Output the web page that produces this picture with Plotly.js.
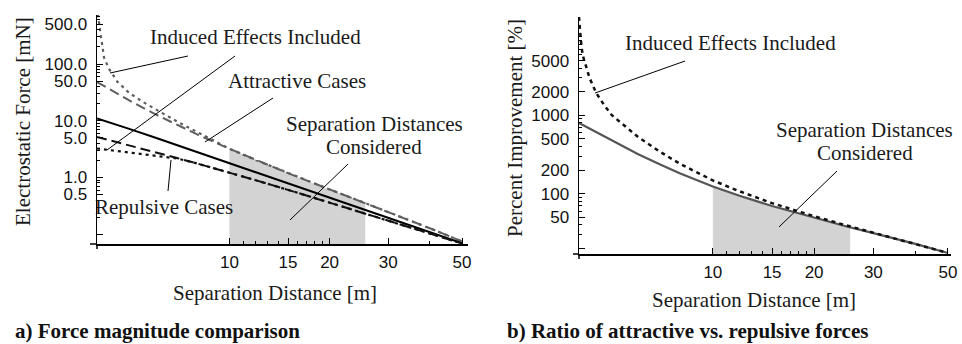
<!DOCTYPE html>
<html><head><meta charset="utf-8">
<script src="https://cdn.plot.ly/plotly-3.0.1.min.js"></script>
<style>html,body{margin:0;padding:0;background:#fff}#chart{width:962px;height:344px}</style>
</head><body><div id="chart"></div><script>
// ---- Left panel: force magnitude [mN] vs separation distance [m]
const distLeft = [4, 4.5, 5, 6, 7, 8, 10, 12, 15, 20, 25, 30, 40, 50];
const neutralForce = [11.0, 8.94, 7.2, 5.0, 3.66, 2.80, 1.78, 1.23, 0.785, 0.44, 0.28, 0.193, 0.108, 0.069];
const repulsiveForce = [5.17, 4.33, 3.70, 2.79, 2.18, 1.76, 1.22, 0.893, 0.604, 0.36, 0.241, 0.174, 0.103, 0.0685];
const attractiveForce = [48.2, 32.3, 22.8, 12.9, 8.28, 5.73, 3.21, 2.03, 1.19, 0.615, 0.372, 0.247, 0.127, 0.0746];
const repulsiveInducedDist = [4, 4.5, 5, 6, 7, 8, 10, 12, 15, 20, 25, 30, 40, 50];
const repulsiveInducedForce = [3.24, 2.99, 2.75, 2.39, 2.15, 1.76, 1.22, 0.893, 0.604, 0.36, 0.241, 0.174, 0.103, 0.0685];
const attractiveInducedDist = [4, 4.05, 4.1, 4.2, 4.35, 4.6, 5, 5.5, 6, 7, 8, 10, 12, 15, 20, 25, 30, 40, 50];
const attractiveInducedForce = [1000, 551, 339, 130, 81.7, 49.2, 30.9, 21.4, 15.8, 9.5, 6.33, 3.21, 2.03, 1.19, 0.615, 0.372, 0.247, 0.127, 0.0746];
const shadeLeftDist = [10, 12, 15, 20, 25, 25.6];
const shadeLeftTop = [3.21, 2.03, 1.19, 0.615, 0.372, 0.36];
const leftYTickVals = [0.1, 0.5, 1, 5, 10, 50, 100, 500];
const leftYTickText = ['', '0.5', '1.0', '5.0', '10.0', '50.0', '100.0', '500.0'];

// ---- Right panel: percent improvement vs separation distance
const distRight = [4, 4.5, 5, 6, 7, 8, 10, 12, 15, 20, 25, 30, 40, 50];
const improvement = [800, 610, 478, 320, 234, 181.5, 124, 94.4, 69.8, 49.2, 38.3, 31.5, 23.0, 17.6];
const improvementInducedDist = [4, 4.02, 4.05, 4.1, 4.2, 4.3, 4.5, 4.75, 5, 5.5, 6, 7, 8, 10, 12, 15, 20, 25, 30, 40, 50];
const improvementInduced = [18000, 13500, 9160, 5890, 4140, 3000, 1930, 1358, 1012, 711, 528, 339, 240, 148, 107.6, 76, 51.7, 39.4, 32, 23.1, 17.6];
const shadeRightDist = [10, 12, 15, 20, 25, 25.6];
const shadeRightTop = [124, 94.4, 69.8, 49.2, 38.3, 37.6];
const rightYTickVals = [20, 50, 100, 200, 500, 1000, 2000, 5000];
const rightYTickText = ['', '50', '100', '200', '500', '1000', '2000', '5000'];

const xTickVals = [10, 15, 20, 30, 50];
const xTickText = ['10', '15', '20', '30', '50'];
const xMinorVals = [11, 12, 13, 14, 16, 17, 18, 19, 40];

const W = 962, H = 344;
const px = v => v / W, py = v => 1 - v / H;
const SERIF = '"Liberation Serif", "Times New Roman", serif';
const SANS = '"Liberation Sans", Arial, sans-serif';
const GRAY = '#5e5e5e';

function shade(d, top, floor, xa, ya) {
  return {x: d.concat([d[d.length - 1], d[0]]), y: top.concat([floor, floor]),
    xaxis: xa, yaxis: ya, type: 'scatter', mode: 'lines', fill: 'toself',
    fillcolor: '#d3d3d3', line: {width: 0}, hoverinfo: 'skip'};
}
function line(x, y, xa, ya, color, width, dash) {
  return {x: x, y: y, xaxis: xa, yaxis: ya, type: 'scatter', mode: 'lines',
    line: {color: color, width: width, dash: dash}, hoverinfo: 'skip'};
}

const traces = [
  shade(shadeLeftDist, shadeLeftTop, 0.01, 'x', 'y'),
  line(distLeft, attractiveForce, 'x', 'y', GRAY, 2, '10px,5px'),
  line(attractiveInducedDist, attractiveInducedForce, 'x', 'y', GRAY, 2.2, '3px,4px'),
  line(distLeft, neutralForce, 'x', 'y', '#000', 2, 'solid'),
  line(distLeft, repulsiveForce, 'x', 'y', '#111', 2, '10px,5px'),
  line(repulsiveInducedDist, repulsiveInducedForce, 'x', 'y', '#111', 2.2, '3px,4px'),
  shade(shadeRightDist, shadeRightTop, 1, 'x2', 'y2'),
  line(distRight, improvement, 'x2', 'y2', '#555', 2.2, 'solid'),
  line(improvementInducedDist, improvementInduced, 'x2', 'y2', '#111', 2.5, '4px,4px')
];

const tickfont = {family: SANS, size: 17, color: '#111'};
function xAxis(domain, range, anchor) {
  return {type: 'log', domain: domain, range: range, anchor: anchor,
    showline: true, linecolor: '#000', linewidth: 1.5, showgrid: false, zeroline: false,
    tickmode: 'array', tickvals: xTickVals, ticktext: xTickText,
    ticks: 'inside', ticklen: 6, tickwidth: 1, tickcolor: '#000',
    ticklabelstandoff: 2, tickfont: tickfont,
    minor: {tickmode: 'array', tickvals: xMinorVals, ticks: 'inside', ticklen: 3, tickwidth: 1, tickcolor: '#000', showgrid: false}};
}
function yAxis(domain, range, anchor, vals, text, minorVals) {
  return {type: 'log', domain: domain, range: range, anchor: anchor,
    showline: true, linecolor: '#000', linewidth: 1.5, showgrid: false, zeroline: false,
    tickmode: 'array', tickvals: vals, ticktext: text,
    ticks: 'inside', ticklen: 6, tickwidth: 1, tickcolor: '#000',
    ticklabelstandoff: 5, tickfont: tickfont,
    minor: {tickmode: 'array', tickvals: minorVals, ticks: 'inside', ticklen: 3, tickwidth: 1, tickcolor: '#000', showgrid: false}};
}
const leftMinor = [0.2, 0.3, 0.4, 0.6, 0.7, 0.8, 0.9, 2, 3, 4, 6, 7, 8, 9, 20, 30, 40, 60, 70, 80, 90, 200, 300, 400, 600, 700];
const rightMinor = [30, 40, 60, 70, 80, 90, 300, 400, 600, 700, 800, 900, 3000, 4000, 6000, 7000, 8000, 9000, 10000];

function ann(text, x, y, opts) {
  return Object.assign({text: text, x: px(x), y: py(y), xref: 'paper', yref: 'paper',
    showarrow: false, xanchor: 'center', yanchor: 'middle',
    font: {family: SERIF, size: 21, color: '#1a1a1a'}}, opts || {});
}
function seg(x0, y0, x1, y1, w) {
  return {type: 'line', xref: 'paper', yref: 'paper', x0: px(x0), y0: py(y0), x1: px(x1), y1: py(y1),
    line: {color: '#000', width: w || 1}};
}

const layout = {
  width: W, height: H, margin: {l: 0, r: 0, t: 0, b: 0},
  paper_bgcolor: '#fff', plot_bgcolor: 'rgba(0,0,0,0)', showlegend: false,
  font: {family: SERIF},
  xaxis: xAxis([97 / W, 468 / W], [Math.log10(4), 1.717], 'y'),
  yaxis: yAxis([py(244), py(15)], [-1.174, 2.865], 'x', leftYTickVals, leftYTickText, leftMinor),
  xaxis2: xAxis([579 / W, 951 / W], [Math.log10(4), 1.708], 'y2'),
  yaxis2: yAxis([py(254), py(17)], [1.232, 4.255], 'x2', rightYTickVals, rightYTickText, rightMinor),
  annotations: [
    ann('Induced Effects Included', 255, 37),
    ann('Attractive Cases', 297, 81),
    ann('Separation Distances', 374, 124),
    ann('Considered', 374, 147),
    ann('Repulsive Cases', 164, 207),
    ann('Separation Distance [m]', 275, 293),
    ann('Electrostatic Force [mN]', 23, 122, {textangle: -90}),
    ann('<b>a) Force magnitude comparison</b>', 13, 331, {xanchor: 'left', font: {family: SERIF, size: 21, color: '#111'}}),
    ann('Induced Effects Included', 730, 43),
    ann('Separation Distances', 864, 130),
    ann('Considered', 865, 153),
    ann('Separation Distance [m]', 754, 300),
    ann('Percent Improvement [%]', 515, 128, {textangle: -90}),
    ann('<b>b) Ratio of attractive vs. repulsive forces</b>', 505, 331, {xanchor: 'left', font: {family: SERIF, size: 21, color: '#111'}})
  ],
  shapes: [
    seg(188, 56, 110, 73), seg(235, 56, 107, 150), seg(273, 98, 205, 142),
    seg(348, 164, 290, 220), seg(168, 191, 171, 160),
    seg(685, 61, 595, 93), seg(837, 171, 779, 227),
    seg(90, 244, 97, 244, 1.5), seg(97, 244, 97, 249, 1.5),
    seg(573, 254, 579, 254, 1.5), seg(579, 254, 579, 259, 1.5)
  ]
};

Plotly.newPlot('chart', traces, layout, {displayModeBar: false, staticPlot: true});
</script></body></html>
